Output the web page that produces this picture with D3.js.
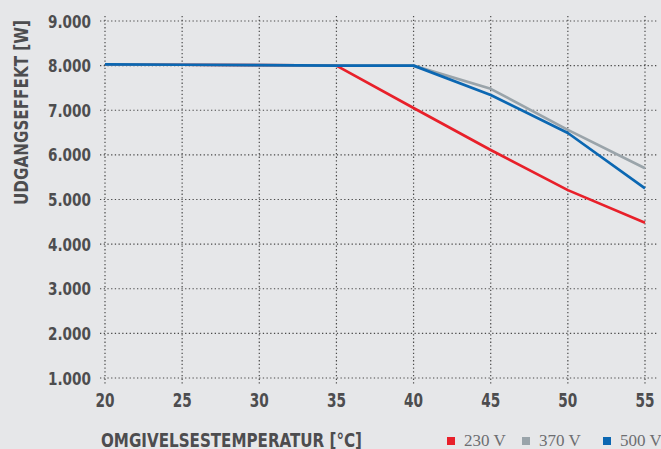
<!DOCTYPE html>
<html>
<head>
<meta charset="utf-8">
<script src="https://cdn.jsdelivr.net/npm/d3@7"></script>
<style>
    html, body { margin: 0; padding: 0; background: #e6e7e9; }
    svg { display: block; }
    .lbl { font-family: "DejaVu Sans Condensed", "DejaVu Sans", sans-serif; font-weight: bold; fill: #4d4d4f; }
    .leg { font-family: "Liberation Serif", "DejaVu Serif", serif; fill: #6d6e71; }
</style>
</head>
<body>
<svg id="chart" width="661" height="449"></svg>
<script>
/* chart data */
const temps = [20, 25, 30, 35, 40, 45, 50, 55];
const xTicks = [20, 25, 30, 35, 40, 45, 50, 55];
const yTicks = [1000, 2000, 3000, 4000, 5000, 6000, 7000, 8000, 9000];
const v230 = [8030, 8020, 8010, 8000, 7050, 6110, 5210, 4480];
const v370 = [8030, 8020, 8010, 8000, 8000, 7480, 6560, 5700];
const v500 = [8030, 8020, 8010, 8000, 8000, 7340, 6490, 5250];
const seriesNames = ["230 V", "370 V", "500 V"];
const seriesColors = ["#e8202a", "#9aa4aa", "#0b67b2"];

const svg = d3.select("#chart");
const x = d3.scaleLinear().domain([20, 55]).range([105, 645]);
const y = d3.scaleLinear().domain([1000, 9000]).range([378, 21]);
const fmt = d => d3.format(",")(d).replace(/,/g, ".");

// grid
const grid = svg.append("g")
    .attr("stroke", "#4a4a4a")
    .attr("stroke-width", 1.2)
    .attr("stroke-dasharray", "1.3,2.4");
grid.selectAll(".gy").data(yTicks).join("line")
    .attr("x1", 100).attr("x2", 658)
    .attr("y1", d => y(d)).attr("y2", d => y(d));
grid.selectAll(".gx").data(xTicks).join("line")
    .attr("x1", d => x(d)).attr("x2", d => x(d))
    .attr("y1", 16).attr("y2", 386);

// tick labels (condensed to the narrow face of the original)
svg.append("g").selectAll("text").data(yTicks).join("text")
    .attr("class", "lbl")
    .attr("x", 91).attr("y", d => y(d) + 6.5)
    .attr("text-anchor", "end")
    .attr("font-size", 18)
    .attr("textLength", 43)
    .attr("lengthAdjust", "spacingAndGlyphs")
    .text(fmt);
svg.append("g").selectAll("text").data(xTicks).join("text")
    .attr("class", "lbl")
    .attr("x", d => x(d)).attr("y", 407)
    .attr("text-anchor", "middle")
    .attr("font-size", 19)
    .attr("textLength", 19)
    .attr("lengthAdjust", "spacingAndGlyphs")
    .text(d => d);

// axis titles
svg.append("text").attr("class", "lbl")
    .attr("x", 101).attr("y", 446.5)
    .attr("font-size", 19.5)
    .attr("textLength", 261)
    .attr("lengthAdjust", "spacingAndGlyphs")
    .text("OMGIVELSESTEMPERATUR [°C]");
svg.append("text").attr("class", "lbl")
    .attr("transform", "translate(27.5,205) rotate(-90)")
    .attr("font-size", 19)
    .attr("textLength", 185)
    .attr("lengthAdjust", "spacingAndGlyphs")
    .text("UDGANGSEFFEKT [W]");

// lines
const line = d3.line().x((d, i) => x(temps[i])).y(d => y(d));
[v230, v370, v500].forEach((vals, i) => {
    svg.append("path")
        .datum(vals)
        .attr("fill", "none")
        .attr("stroke", seriesColors[i])
        .attr("stroke-width", 2.7)
        .attr("stroke-linejoin", "round")
        .attr("d", line);
});

// legend
const legX = [447, 522, 603];
const leg = svg.append("g");
seriesNames.forEach((name, i) => {
    leg.append("rect")
        .attr("x", legX[i]).attr("y", 437)
        .attr("width", 8).attr("height", 8)
        .attr("fill", seriesColors[i]);
    leg.append("text").attr("class", "leg")
        .attr("x", legX[i] + 17).attr("y", 446)
        .attr("font-size", 17)
        .text(name);
});
</script>
</body>
</html>
